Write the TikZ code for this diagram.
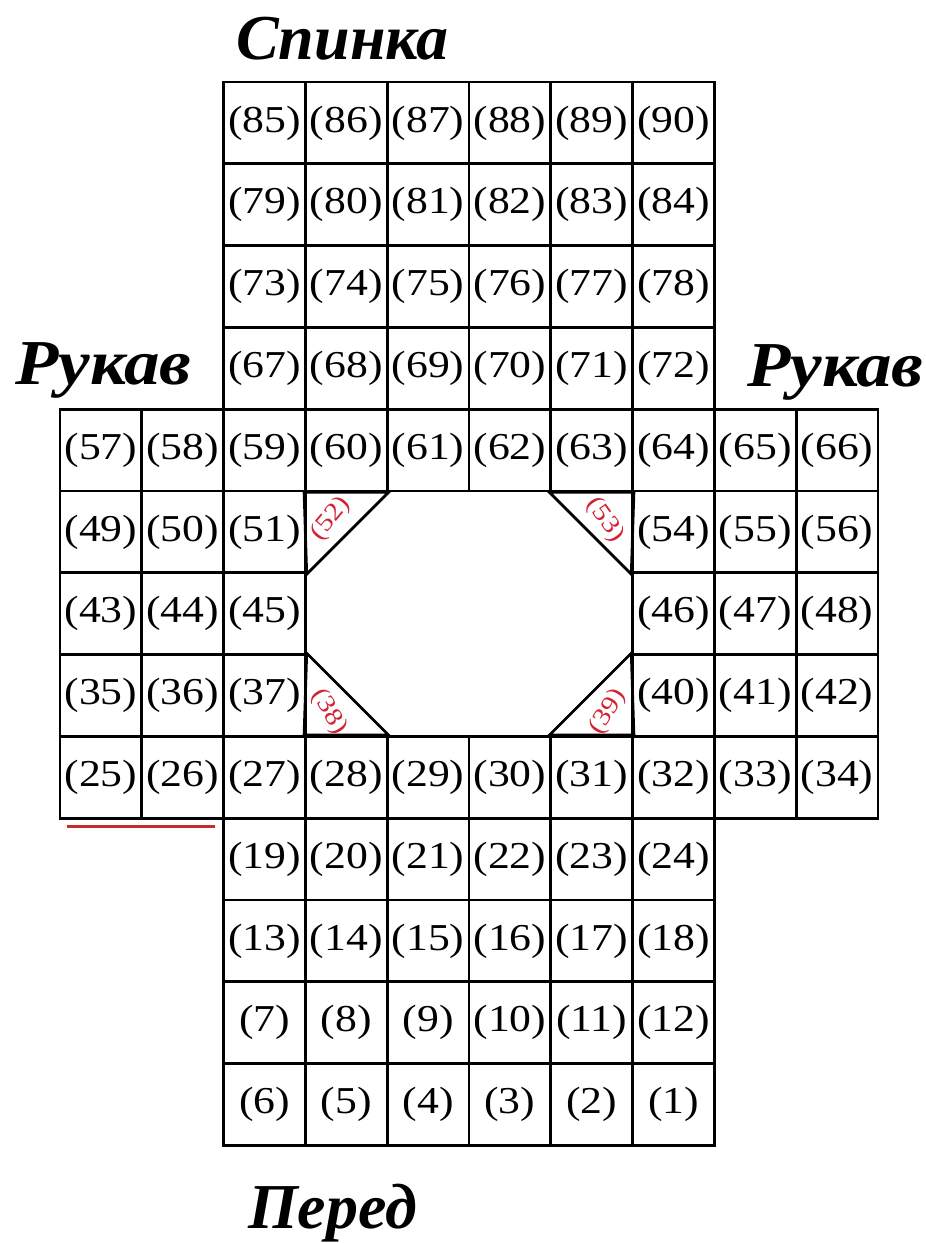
\documentclass[tikz,border=0pt]{standalone}
\usepackage{fontspec}
\setmainfont{Liberation Serif}
\newfontfamily\cellfont[FakeStretch=1.15]{Liberation Serif}
\usetikzlibrary{calc}
\definecolor{tred}{RGB}{210,35,50}
\definecolor{lred}{RGB}{195,45,45}
\newcommand\cellrow[3]{\foreach \n [count=\i from 0] in {#3} {\node[cell] (n\n) at ({60+81.8*(#2+\i+0.5)},{1161-81.8*(#1+0.5)}) {(\n)};}}
\begin{document}
\begin{tikzpicture}[x=1pt,y=1pt,
  gridline/.style={line width=2.7pt, line join=miter},
  cell/.style={draw, gridline, minimum width=81.8pt, minimum height=81.8pt, inner sep=0pt,
    font=\cellfont\fontsize{38}{40}\selectfont},
  trilabel/.style={font=\cellfont\fontsize{25}{27}\selectfont, text=tred, inner sep=0pt},
  title/.style={font=\fontsize{64}{70}\selectfont\bfseries\itshape, inner sep=0pt, anchor=base west}]
\useasboundingbox (0,0) rectangle (926,1243);
\fill[white] (0,0) rectangle (926,1243);

\cellrow{0}{2}{85,86,87,88,89,90}
\cellrow{1}{2}{79,80,81,82,83,84}
\cellrow{2}{2}{73,74,75,76,77,78}
\cellrow{3}{2}{67,68,69,70,71,72}
\cellrow{4}{0}{57,58,59,60,61,62,63,64,65,66}
\cellrow{5}{0}{49,50,51}
\cellrow{5}{7}{54,55,56}
\cellrow{6}{0}{43,44,45}
\cellrow{6}{7}{46,47,48}
\cellrow{7}{0}{35,36,37}
\cellrow{7}{7}{40,41,42}
\cellrow{8}{0}{25,26,27,28,29,30,31,32,33,34}
\cellrow{9}{2}{19,20,21,22,23,24}
\cellrow{10}{2}{13,14,15,16,17,18}
\cellrow{11}{2}{7,8,9,10,11,12}
\cellrow{12}{2}{6,5,4,3,2,1}

% corner triangles
\draw[gridline] (n60.south west) -- (n60.south east) -- (n51.south east) -- cycle;
\draw[gridline] (n63.south west) -- (n63.south east) -- (n54.south west) -- cycle;
\draw[gridline] (n37.north east) -- (n28.north west) -- (n28.north east) -- cycle;
\draw[gridline] (n40.north west) -- (n31.north east) -- (n31.north west) -- cycle;

\node[trilabel, rotate=50]  (n52) at (331,724) {(52)};
\node[trilabel, rotate=-55] (n53) at (605,723) {(53)};
\node[trilabel, rotate=-58] (n38) at (329,531) {(38)};
\node[trilabel, rotate=58]  (n39) at (608,531) {(39)};

% red underline
\draw[lred, line width=3pt] ($(n25.south west)+(8,-7)$) -- ($(n26.south east)+(-10,-7)$);

% titles
\node[title] (tback)  at (236,1183) {Спинка};
\node[title] (tleft)  at (15,858)   {\scalebox{1.11}[1]{Рукав}};
\node[title] (tright) at (747,856)  {\scalebox{1.11}[1]{Рукав}};
\node[title] (tfront) at (248,14)   {Перед};
\end{tikzpicture}
\end{document}
